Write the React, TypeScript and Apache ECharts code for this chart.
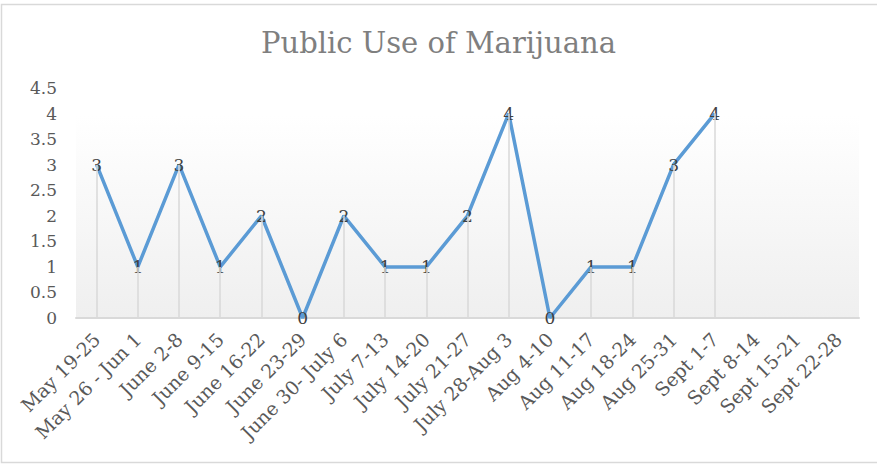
import React, { useEffect, useRef } from "react";
import * as echarts from "echarts";

const title = "Public Use of Marijuana";
const categories = [
  "May 19-25",
  "May 26 - Jun 1",
  "June 2-8",
  "June 9-15",
  "June 16-22",
  "June 23-29",
  "June 30- July 6",
  "July 7-13",
  "July 14-20",
  "July 21-27",
  "July 28-Aug 3",
  "Aug 4-10",
  "Aug 11-17",
  "Aug 18-24",
  "Aug 25-31",
  "Sept 1-7",
  "Sept 8-14",
  "Sept 15-21",
  "Sept 22-28",
];
const values: (number | null)[] = [3, 1, 3, 1, 2, 0, 2, 1, 1, 2, 4, 0, 1, 1, 3, 4, null, null, null];
const yMin = 0;
const yMax = 4.5;
const yStep = 0.5;

const FONT = "'DejaVu Serif', serif";

export default function App() {
  const ref = useRef<HTMLDivElement>(null);
  useEffect(() => {
    document.body.style.margin = "0";
    const chart = echarts.init(ref.current!, null, { renderer: "svg" });
    const dropLines = values
      .map((v, i) => (v === null ? null : [{ coord: [i, 0] }, { coord: [i, v] }]))
      .filter((d) => d !== null);
    chart.setOption({
      animation: false,
      backgroundColor: "#ffffff",
      textStyle: { fontFamily: FONT },
      title: {
        text: title,
        left: "center",
        top: 23,
        textStyle: { fontFamily: FONT, fontSize: 29, fontWeight: "normal", color: "#7f7f7f" },
      },
      graphic: [
        {
          type: "rect",
          shape: { x: 1.5, y: 4.5, width: 890, height: 458 },
          style: { fill: "none", stroke: "#d9d9d9", lineWidth: 1.5 },
          silent: true,
        },
      ],
      grid: {
        left: 76,
        right: 18,
        top: 88,
        bottom: 147,
        show: true,
        borderWidth: 0,
        backgroundColor: {
          type: "linear",
          x: 0,
          y: 0,
          x2: 0,
          y2: 1,
          colorStops: [
            { offset: 0, color: "#ffffff" },
            { offset: 0.12, color: "#ffffff" },
            { offset: 1, color: "#efefef" },
          ],
        },
      },
      xAxis: {
        type: "category",
        data: categories,
        boundaryGap: true,
        axisLine: { show: true, lineStyle: { color: "#d9d9d9", width: 2 } },
        axisTick: { show: false },
        axisLabel: {
          rotate: 45,
          interval: 0,
          margin: 18,
          fontFamily: FONT,
          fontSize: 19,
          color: "#595959",
        },
        splitLine: { show: false },
      },
      yAxis: {
        type: "value",
        min: yMin,
        max: yMax,
        interval: yStep,
        axisLine: { show: false },
        axisTick: { show: false },
        splitLine: { show: false },
        axisLabel: {
          margin: 19,
          fontFamily: FONT,
          fontSize: 17,
          color: "#595959",
        },
      },
      series: [
        {
          type: "line",
          data: values,
          symbol: "circle",
          symbolSize: 1,
          showSymbol: true,
          itemStyle: { color: "rgba(0,0,0,0)" },
          connectNulls: false,
          lineStyle: { color: "#5b9bd5", width: 3.5 },
          label: {
            show: true,
            position: "inside",
            fontFamily: FONT,
            fontSize: 17,
            color: "#404040",
          },
          labelLayout: { hideOverlap: false },
          markLine: {
            silent: true,
            symbol: ["none", "none"],
            label: { show: false },
            lineStyle: { color: "#d9d9d9", width: 1.5, type: "solid" },
            data: dropLines,
          },
          z: 3,
        },
      ],
    });
    return () => chart.dispose();
  }, []);
  return <div ref={ref} style={{ position: "fixed", left: 0, top: 0, width: 877, height: 465 }} />;
}
